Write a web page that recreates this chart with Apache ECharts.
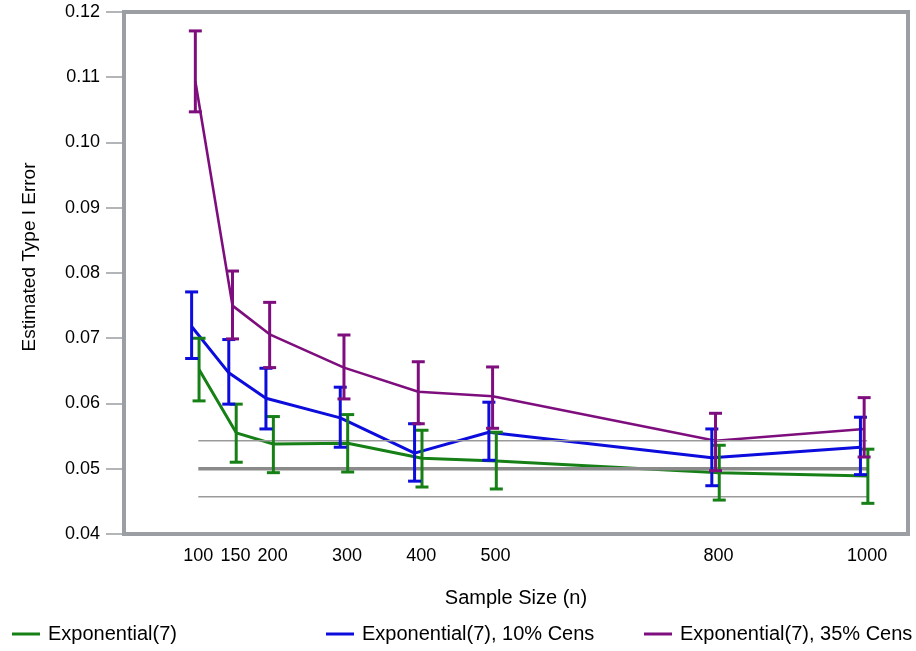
<!DOCTYPE html>
<html>
<head>
<meta charset="utf-8">
<script src="https://cdn.jsdelivr.net/npm/echarts@6/dist/echarts.min.js"></script>
<style>html,body{margin:0;padding:0;background:#fff;}#c{width:916px;height:651px;}</style>
</head>
<body>
<div id="c"></div>
<script>
// ---- data ----
const sampleSizes = [100, 150, 200, 300, 400, 500, 800, 1000];
const xTickLabels = [100, 150, 200, 300, 400, 500, 800, 1000];
const seriesNames = ['Exponential(7)', 'Exponential(7), 10% Cens', 'Exponential(7), 35% Cens'];
// estimated type I error
const expMean   = [0.0652, 0.0555, 0.0538, 0.0539, 0.0516, 0.0512, 0.0494, 0.0489];
const cens10Mean= [0.0718, 0.0647, 0.0608, 0.0578, 0.0524, 0.0556, 0.0517, 0.0533];
const cens35Mean= [0.1094, 0.0750, 0.0706, 0.0655, 0.0618, 0.0611, 0.0543, 0.0561];
// error bar limits
const expLow    = [0.0604, 0.0510, 0.0494, 0.0495, 0.0472, 0.0469, 0.0452, 0.0447];
const expHigh   = [0.0700, 0.0599, 0.0580, 0.0583, 0.0559, 0.0556, 0.0536, 0.0530];
const cens10Low = [0.0669, 0.0599, 0.0561, 0.0533, 0.0481, 0.0513, 0.0474, 0.0491];
const cens10High= [0.0771, 0.0698, 0.0654, 0.0625, 0.0569, 0.0602, 0.0561, 0.0579];
const cens35Low = [0.1047, 0.0699, 0.0655, 0.0607, 0.0569, 0.0562, 0.0497, 0.0518];
const cens35High= [0.1171, 0.0803, 0.0755, 0.0705, 0.0664, 0.0656, 0.0585, 0.0609];
// horizontal dodge of each group (in sample-size units)
const dodge = [1, -9, -4];
// reference levels: nominal and binomial limits
const nominalLevel = 0.05;
const refBand = [0.0457, 0.0543];
const yTitle = 'Estimated Type I Error';
const xTitle = 'Sample Size (n)';

const colors = ['#168016', '#0c0cdc', '#7e0e7e'];
const means = [expMean, cens10Mean, cens35Mean];
const lows = [expLow, cens10Low, cens35Low];
const highs = [expHigh, cens10High, cens35High];

const FONT = '"Liberation Sans", Arial, Helvetica, sans-serif';
const chart = echarts.init(document.getElementById('c'), null, {renderer: 'canvas'});

const series = [];
// lines
means.forEach((m, i) => {
  series.push({
    name: seriesNames[i], type: 'line', z: 2,
    data: sampleSizes.map((n, k) => [n + dodge[i], m[k]]),
    symbol: 'none', lineStyle: {color: colors[i], width: i === 2 ? 2.6 : 3},
    itemStyle: {color: colors[i]}, animation: false
  });
});
// reference lines
const xFirst = sampleSizes[0], xLast = sampleSizes[sampleSizes.length - 1];
series.push({type: 'line', z: 3, silent: true, symbol: 'none', animation: false,
  data: [[xFirst, nominalLevel], [xLast, nominalLevel]], lineStyle: {color: '#8a8a8a', width: 3.5}});
refBand.forEach(v => series.push({type: 'line', z: 3, silent: true, symbol: 'none', animation: false,
  data: [[xFirst, v], [xLast, v]], lineStyle: {color: '#9a9a9a', width: 1.5}}));
// error bars
means.forEach((m, i) => {
  const color = colors[i];
  series.push({
    type: 'custom', z: 4, silent: true, animation: false,
    data: sampleSizes.map((n, k) => [n + dodge[i], lows[i][k], highs[i][k]]),
    encode: {x: 0, y: [1, 2]},
    renderItem: (params, api) => {
      const x = api.value(0);
      const pHi = api.coord([x, api.value(2)]);
      const pLo = api.coord([x, api.value(1)]);
      const w = 6.5;
      const st = {stroke: color, lineWidth: 3};
      return {type: 'group', children: [
        {type: 'line', shape: {x1: pHi[0], y1: pHi[1], x2: pLo[0], y2: pLo[1]}, style: st},
        {type: 'line', shape: {x1: pHi[0] - w, y1: pHi[1], x2: pHi[0] + w, y2: pHi[1]}, style: st},
        {type: 'line', shape: {x1: pLo[0] - w, y1: pLo[1], x2: pLo[0] + w, y2: pLo[1]}, style: st}
      ]};
    }
  });
});

const legendLefts = [12, 326, 644];
const legends = seriesNames.map((nm, i) => ({
  data: [nm], left: legendLefts[i], top: 624, padding: 0, icon: 'rect', itemWidth: 28, itemHeight: 3,
  itemGap: 8, textStyle: {fontFamily: FONT, fontSize: 20, color: '#000', padding: [0, 0, 0, 3]}, selectedMode: false
}));

chart.setOption({
  backgroundColor: '#fff',
  animation: false,
  textStyle: {fontFamily: FONT},
  legend: legends,
  graphic: [{
    type: 'text', rotation: Math.PI / 2, z: 10,
    x: 30, y: 257,
    style: {text: yTitle, fontFamily: FONT, fontSize: 19, fill: '#000', align: 'center', verticalAlign: 'middle'}
  }],
  grid: {left: 124, right: 8, top: 12, bottom: 117, show: true, borderColor: '#9b9fa3', borderWidth: 4, backgroundColor: 'transparent'},
  xAxis: {
    type: 'value', min: 0, max: 1055,
    name: xTitle, nameLocation: 'middle', nameGap: 54,
    nameTextStyle: {fontFamily: FONT, fontSize: 20, color: '#000'},
    axisLine: {show: false}, axisTick: {show: false}, splitLine: {show: false},
    axisLabel: {customValues: xTickLabels, fontFamily: FONT, fontSize: 18, color: '#000', margin: 13, formatter: v => String(v)}
  },
  yAxis: {
    type: 'value', min: 0.04, max: 0.12, interval: 0.01,
    axisLine: {show: false}, splitLine: {show: false},
    axisTick: {show: true, length: 18, lineStyle: {color: '#9b9fa3', width: 1.5}},
    axisLabel: {fontFamily: FONT, fontSize: 18, color: '#000', margin: 24, formatter: v => v.toFixed(2)}
  },
  series: series
});
</script>
</body>
</html>
